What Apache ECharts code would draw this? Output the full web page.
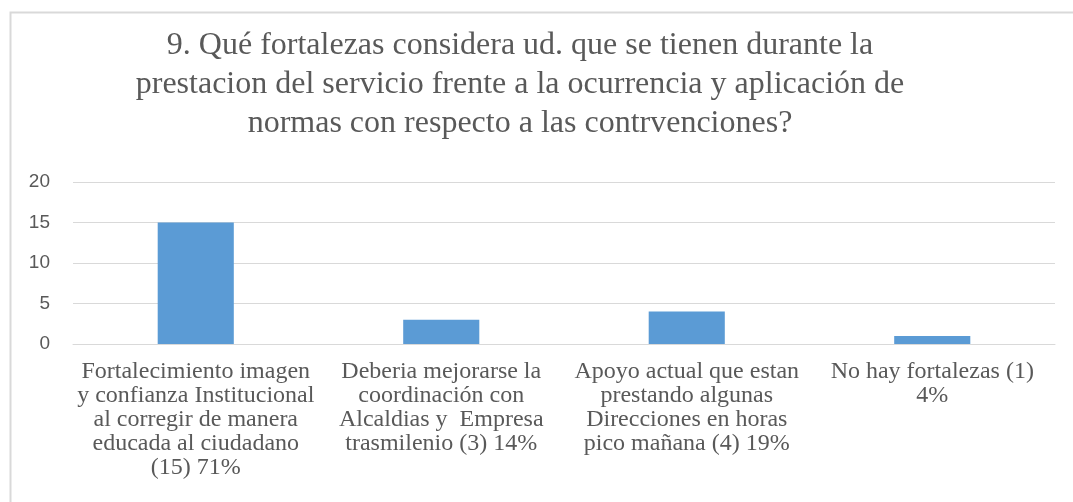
<!DOCTYPE html>
<html>
<head>
<meta charset="utf-8">
<script src="https://cdn.jsdelivr.net/npm/echarts@6/dist/echarts.min.js"></script>
<style>
  html, body { margin: 0; padding: 0; background: #fff; }
  #main { width: 1073px; height: 502px; }
</style>
</head>
<body>
<div id="main"></div>
<script>
// datos
var categorias = [
  "Fortalecimiento imagen\ny confianza Institucional\nal corregir de manera\neducada al ciudadano\n(15) 71%",
  "Deberia mejorarse la\ncoordinación con\nAlcaldias y  Empresa\ntrasmilenio (3) 14%",
  "Apoyo actual que estan\nprestando algunas\nDirecciones en horas\npico mañana (4) 19%",
  "No hay fortalezas (1)\n4%"
];
var valores = [15, 3, 4, 1];
var titulo = "9. Qué fortalezas considera ud. que se tienen durante la\nprestacion del servicio frente a la ocurrencia y aplicación de\nnormas con respecto a las contrvenciones?";

var myChart = echarts.init(document.getElementById("main"));

var option = {
  animation: false,
  title: {
    text: titulo,
    left: 515,
    top: 21,
    textAlign: "center",
    textStyle: {
      fontFamily: "Liberation Serif",
      fontSize: 32,
      fontWeight: "normal",
      color: "#595959",
      lineHeight: 39
    }
  },
  // borde del area del grafico (sale por la derecha y abajo)
  graphic: [{
    type: "rect",
    left: 8,
    top: 10,
    shape: { width: 1100, height: 540 },
    style: { fill: "none", stroke: "#d9d9d9", lineWidth: 2 }
  }],
  grid: { left: 73, right: 18, top: 182, bottom: 158 },
  xAxis: {
    type: "category",
    data: categorias,
    axisTick: { show: false },
    axisLine: { lineStyle: { color: "#d9d9d9" } },
    axisLabel: {
      interval: 0,
      margin: 16,
      fontFamily: "Liberation Serif",
      fontSize: 24,
      lineHeight: 24,
      color: "#595959",
      align: "center"
    }
  },
  yAxis: {
    type: "value",
    min: 0,
    max: 20,
    interval: 5,
    axisLine: { show: false },
    axisTick: { show: false },
    splitLine: { lineStyle: { color: "#d9d9d9" } },
    axisLabel: {
      margin: 23,
      fontFamily: "Liberation Sans",
      fontSize: 19,
      color: "#595959"
    }
  },
  series: [{
    type: "bar",
    data: valores,
    barWidth: "31%",
    itemStyle: { color: "#5b9bd5" }
  }]
};

myChart.setOption(option);
</script>
</body>
</html>
